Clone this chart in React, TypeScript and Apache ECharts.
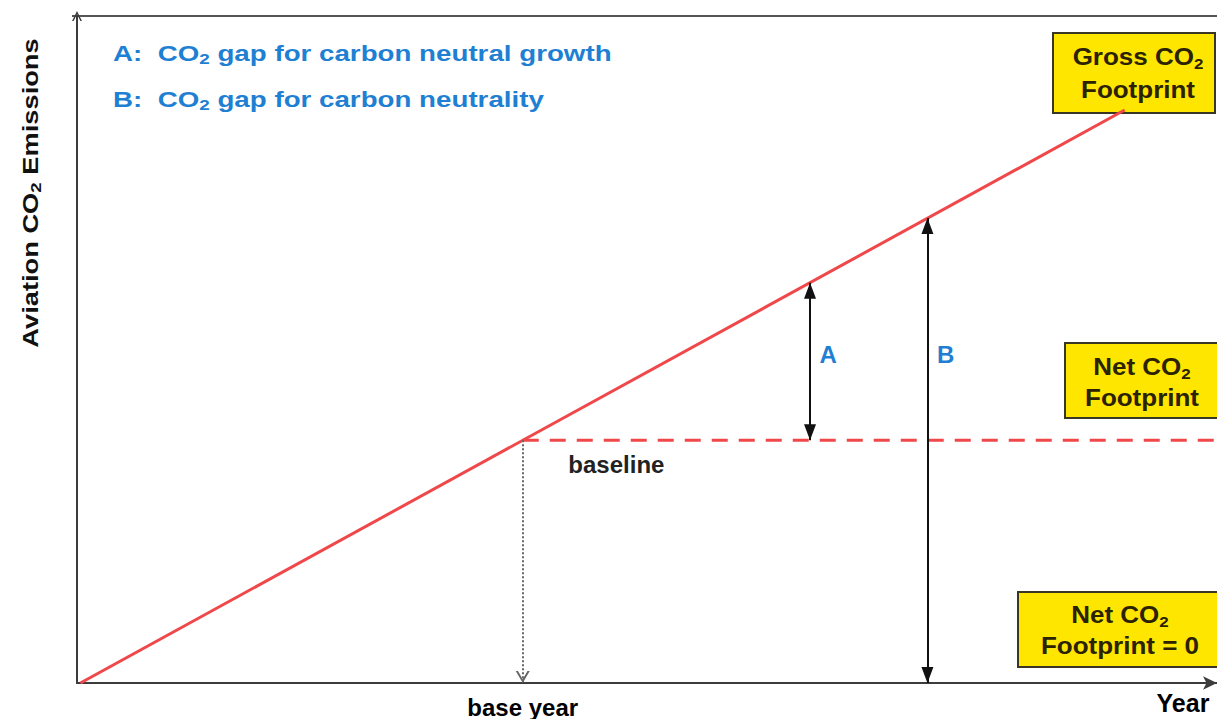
import React, { useEffect, useRef } from "react";
import * as echarts from "echarts";

// ---- data (abstract units: 0..100 on both axes) ----
const grossX = [0.3, 91.9];
const grossY = [0, 85.9];
const baseYearX = 39.1;
const baselineY = 36.4;
const baselineEndX = 100;
const gapAX = 64.3;
const gapATop = 60.0;
const gapBX = 74.6;
const gapBTop = 69.7;
const gapLabels = ["A", "B"];
const gapLabelX = [65.9, 76.2];
const gapLabelY = [49.2, 49.2];
const baselineLabel = "baseline";
const baselineLabelPos = [43.1, 32.8];
const xTickLabel = "base year";

const FONT = '"Liberation Sans", Arial, Helvetica, sans-serif';
const RED = "#f0484a";
const BLUE = "#1f7fd2";
const YELLOW = "#ffe600";
const BOXTEXT = "#2a2200";

const subRich = (size: number, color: string) => ({
  s: {
    fontSize: size,
    fontWeight: "bold",
    fontFamily: FONT,
    color,
    verticalAlign: "bottom",
    lineHeight: size,
  },
});

function yellowBox(x: number, y: number, w: number, h: number, line1: string, line2: string, cx: number, y1: number, y2: number) {
  return {
    type: "group",
    children: [
      {
        type: "rect",
        shape: { x, y, width: w, height: h },
        style: { fill: YELLOW, stroke: "#3a3624", lineWidth: 2 },
      },
      {
        type: "text",
        x: cx,
        y: y1,
        scaleX: 1.13,
        style: {
          text: line1,
          fontSize: 23,
          fontWeight: "bold",
          fontFamily: FONT,
          fill: BOXTEXT,
          align: "center",
          verticalAlign: "middle",
          lineHeight: 28,
          rich: subRich(15, BOXTEXT),
        },
      },
      {
        type: "text",
        x: cx,
        y: y2,
        scaleX: 1.13,
        style: {
          text: line2,
          fontSize: 23,
          fontWeight: "bold",
          fontFamily: FONT,
          fill: BOXTEXT,
          align: "center",
          verticalAlign: "middle",
        },
      },
    ],
  };
}

export default function App() {
  const ref = useRef<HTMLDivElement>(null);
  useEffect(() => {
    if (!ref.current) return;
    const chart = echarts.init(ref.current, undefined, { renderer: "svg" });
    const headSize = [12, 16];
    const chevron = "path://M0,10 L5,0 L10,10 L8.4,10 L5,3.2 L1.6,10 Z";
    chart.setOption({
      animation: false,
      backgroundColor: "#ffffff",
      grid: { left: 77, right: 0, top: 16, bottom: 36 },
      xAxis: {
        type: "value",
        min: 0,
        max: 100,
        splitLine: { show: false },
        axisTick: { show: false },
        axisLine: {
          show: true,
          lineStyle: { color: "#3c3c3c", width: 2 },
          symbol: ["none", "arrow"],
          symbolSize: [10, 14],
        },
        axisLabel: {
          show: true,
          customValues: [baseYearX],
          formatter: () => xTickLabel,
          fontSize: 24,
          fontWeight: "bold",
          fontFamily: FONT,
          color: "#000",
          margin: 12,
        },
      },
      yAxis: {
        type: "value",
        min: 0,
        max: 100,
        splitLine: { show: false },
        axisTick: { show: false },
        axisLabel: { show: false },
        axisLine: {
          show: true,
          lineStyle: { color: "#3c3c3c", width: 2 },
          symbol: ["none", chevron],
          symbolSize: [12, 10],
        },
      },
      series: [
        {
          type: "line",
          name: "baseline",
          data: [
            [baseYearX, baselineY],
            [baselineEndX, baselineY],
          ],
          showSymbol: false,
          lineStyle: { color: RED, width: 3, type: [16, 11] },
          z: 2,
          silent: true,
        },
        {
          type: "line",
          name: "gross",
          data: grossX.map((x, i) => [x, grossY[i]]),
          showSymbol: false,
          lineStyle: { color: RED, width: 3 },
          z: 3,
          silent: true,
        },
        {
          type: "line",
          name: "arrows",
          data: [],
          z: 4,
          markLine: {
            silent: true,
            animation: false,
            label: { show: false },
            emphasis: { disabled: true },
            data: [
              [
                { coord: [gapAX, baselineY], symbol: "triangle", symbolSize: headSize, symbolOffset: [0, 8], lineStyle: { color: "#111", width: 2, type: "solid" } },
                { coord: [gapAX, gapATop], symbol: "triangle", symbolSize: headSize, symbolOffset: [0, 8] },
              ],
              [
                { coord: [gapBX, 0], symbol: "triangle", symbolSize: headSize, symbolOffset: [0, 8], lineStyle: { color: "#111", width: 2, type: "solid" } },
                { coord: [gapBX, gapBTop], symbol: "triangle", symbolSize: headSize, symbolOffset: [0, 8] },
              ],
              [
                { coord: [baseYearX, baselineY], symbol: "none", lineStyle: { color: "#666", width: 2, type: [2, 2] } },
                { coord: [baseYearX, 0], symbol: chevron, symbolSize: [14, 12], symbolOffset: [0, 6] },
              ],
            ],
          },
        },
        {
          type: "scatter",
          name: "gapLabels",
          symbolSize: 0,
          silent: true,
          itemStyle: { opacity: 1 },
          data: gapLabels.map((t, i) => [gapLabelX[i], gapLabelY[i], t]),
          label: {
            show: true,
            position: "inside",
            formatter: (p: any) => p.value[2],
            fontSize: 24,
            fontWeight: "bold",
            fontFamily: FONT,
            color: BLUE,
          },
        },
        {
          type: "scatter",
          name: "baselineLabel",
          symbolSize: 0,
          silent: true,
          itemStyle: { opacity: 1 },
          data: [[baselineLabelPos[0], baselineLabelPos[1], baselineLabel]],
          label: {
            show: true,
            position: "right",
            distance: 0,
            formatter: (p: any) => p.value[2],
            fontSize: 24,
            fontWeight: "bold",
            fontFamily: FONT,
            color: "#222",
          },
        },
      ],
      graphic: [
        {
          type: "line",
          shape: { x1: 72, y1: 16, x2: 1217, y2: 16 },
          style: { stroke: "#555", lineWidth: 2 },
          silent: true,
        },
        {
          type: "text",
          x: 113,
          y: 53,
          scaleX: 1.26,
          style: {
            text: "A:  CO{s|2} gap for carbon neutral growth",
            fontSize: 22,
            fontWeight: "bold",
            fontFamily: FONT,
            fill: BLUE,
            align: "left",
            verticalAlign: "middle",
            lineHeight: 27,
            rich: subRich(15, BLUE),
          },
        },
        {
          type: "text",
          x: 113,
          y: 99,
          scaleX: 1.26,
          style: {
            text: "B:  CO{s|2} gap for carbon neutrality",
            fontSize: 22,
            fontWeight: "bold",
            fontFamily: FONT,
            fill: BLUE,
            align: "left",
            verticalAlign: "middle",
            lineHeight: 27,
            rich: subRich(15, BLUE),
          },
        },
        {
          type: "text",
          x: 30,
          y: 193,
          rotation: Math.PI / 2,
          scaleX: 1.24,
          style: {
            text: "Aviation CO{s|2} Emissions",
            fontSize: 22,
            fontWeight: "bold",
            fontFamily: FONT,
            fill: "#111",
            align: "center",
            verticalAlign: "middle",
            lineHeight: 27,
            rich: subRich(15, "#111"),
          },
        },
        {
          type: "text",
          x: 1183,
          y: 703,
          style: {
            text: "Year",
            fontSize: 25,
            fontWeight: "bold",
            fontFamily: FONT,
            fill: "#000",
            align: "center",
            verticalAlign: "middle",
          },
        },
        yellowBox(1053, 33, 162, 80, "Gross CO{s|2}", "Footprint", 1138, 57, 90),
        yellowBox(1065, 343, 160, 75, "Net CO{s|2}", "Footprint", 1142, 367, 398),
        yellowBox(1018, 592, 210, 75, "Net CO{s|2}", "Footprint = 0", 1120, 615, 646),
      ],
    });
    return () => chart.dispose();
  }, []);
  return (
    <div
      ref={ref}
      style={{ position: "fixed", left: 0, top: 0, width: 1217, height: 719, background: "#fff" }}
    />
  );
}
